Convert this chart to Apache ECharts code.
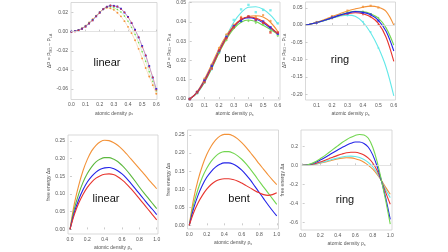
<!DOCTYPE html>
<html>
<head>
<meta charset="utf-8">
<script src="https://cdn.jsdelivr.net/npm/echarts@6/dist/echarts.min.js"></script>
<style>
  html, body { margin: 0; padding: 0; background: #fff; }
  #chart { width: 448px; height: 252px; }
</style>
</head>
<body>
<div id="chart"></div>
<script>
// --- top row: pressure difference vs density ---
const rhoLinearTop = [0, 0.025, 0.05, 0.075, 0.1, 0.125, 0.15, 0.175, 0.2, 0.225, 0.25, 0.275, 0.3,
  0.325, 0.35, 0.375, 0.4, 0.425, 0.45, 0.475, 0.5, 0.525, 0.55, 0.575, 0.6];
const linTopRed = [0, 0.0004, 0.0016, 0.0032, 0.0054, 0.0088, 0.0118, 0.0162, 0.0198, 0.024, 0.0262, 0.0278, 0.0268,
  0.0266, 0.0238, 0.0205, 0.0152, 0.0095, 0.0015, -0.0055, -0.0155, -0.0245, -0.0365, -0.0475, -0.0605];
const linTopBlue = [0, 0.0005, 0.0015, 0.003, 0.0055, 0.0085, 0.012, 0.016, 0.02, 0.0235, 0.026, 0.0272, 0.027,
  0.0262, 0.024, 0.02, 0.0155, 0.009, 0.002, -0.006, -0.015, -0.025, -0.036, -0.048, -0.06];
const linTopGreen = [0, 0.0005, 0.0016, 0.0033, 0.0058, 0.009, 0.0125, 0.0163, 0.0202, 0.0235, 0.0258, 0.0262, 0.025,
  0.0232, 0.0205, 0.0163, 0.011, 0.0045, -0.003, -0.0115, -0.021, -0.031, -0.042, -0.052, -0.062];
const linTopOrange = [0, 0.0006, 0.0018, 0.0036, 0.0062, 0.0095, 0.013, 0.0168, 0.0205, 0.0235, 0.025, 0.0245, 0.0228,
  0.0198, 0.016, 0.011, 0.005, -0.0015, -0.009, -0.018, -0.028, -0.038, -0.047, -0.056, -0.065];

const rhoBentTop = [0, 0.05, 0.1, 0.15, 0.2, 0.25, 0.3, 0.35, 0.4, 0.45, 0.5, 0.55, 0.6];
const bentTopRed = [0, 0.0033, 0.009, 0.0165, 0.0245, 0.0318, 0.0375, 0.0412, 0.0425, 0.042, 0.0402, 0.0372, 0.0338];
const bentTopBlue = [0, 0.0035, 0.0095, 0.017, 0.025, 0.032, 0.0375, 0.041, 0.0422, 0.0415, 0.0395, 0.0368, 0.034];
const bentTopGreen = [0, 0.0032, 0.0088, 0.016, 0.024, 0.031, 0.0365, 0.0398, 0.041, 0.0402, 0.0382, 0.036, 0.0335];
const bentTopOrange = [0, 0.0038, 0.0102, 0.018, 0.0262, 0.033, 0.038, 0.0412, 0.0428, 0.0432, 0.0425, 0.0398, 0.035];
const bentTopCyan = [0, 0.003, 0.0085, 0.0158, 0.0242, 0.0325, 0.0398, 0.0448, 0.0476, 0.0478, 0.0465, 0.0435, 0.039];
const bentPtsRed = [0, 0.0034, 0.0088, 0.0158, 0.0252, 0.0315, 0.0372, 0.0418, 0.0428, 0.0412, 0.0395, 0.0345, 0.0345];
const bentPtsBlue = [0, 0.0036, 0.0096, 0.0172, 0.0248, 0.0322, 0.0378, 0.0405, 0.0425, 0.041, 0.0402, 0.0372, 0.0338];
const bentPtsGreen = [0, 0.0031, 0.0086, 0.0162, 0.0238, 0.0305, 0.0368, 0.0402, 0.0405, 0.0395, 0.0385, 0.0352, 0.0328];
const bentPtsOrange = [0, 0.0039, 0.0105, 0.0178, 0.0265, 0.0335, 0.0385, 0.0425, 0.043, 0.0425, 0.0435, 0.0405, 0.0345];
const bentPtsCyan = [0, 0.003, 0.0086, 0.0155, 0.0245, 0.033, 0.041, 0.0465, 0.0488, 0.045, 0.0462, 0.046, 0.0392];

const rhoRingTop = [0.03, 0.05, 0.1, 0.15, 0.2, 0.25, 0.3, 0.35, 0.4, 0.45, 0.5, 0.55, 0.6];
const ringTopOrange = [0, 0.002, 0.008, 0.016, 0.025, 0.033, 0.041, 0.047, 0.052, 0.055, 0.052, 0.04, 0.0];
const ringTopGreen = [0, 0.002, 0.0075, 0.014, 0.021, 0.029, 0.036, 0.04, 0.039, 0.033, 0.02, -0.008, -0.058];
const ringTopBlue = [0, 0.002, 0.0075, 0.014, 0.021, 0.029, 0.035, 0.039, 0.037, 0.03, 0.014, -0.018, -0.075];
const ringTopRed = [0, 0.002, 0.0075, 0.014, 0.021, 0.028, 0.033, 0.036, 0.033, 0.024, 0.005, -0.035, -0.105];
const ringTopCyan = [0, 0.002, 0.007, 0.013, 0.02, 0.026, 0.029, 0.026, 0.009, -0.022, -0.065, -0.122, -0.205];
const rhoRingPts = [0.1, 0.2, 0.3, 0.4, 0.45, 0.5];
const ringPtsOrange = [0.009, 0.026, 0.042, 0.053, 0.056, 0.051];
const ringPtsGreen = [0.008, 0.02, 0.037, 0.04, 0.032, 0.021];
const ringPtsBlue = [0.007, 0.022, 0.034, 0.036, 0.031, 0.013];
const ringPtsRed = [0.008, 0.02, 0.034, 0.032, 0.025, 0.004];
const ringPtsCyan = [0.007, 0.021, 0.028, 0.01, -0.02, -0.066];

// --- bottom row: free energy vs density ---
const rhoBottom = [0, 0.05, 0.1, 0.15, 0.2, 0.25, 0.3, 0.35, 0.4, 0.45, 0.5,
  0.55, 0.6, 0.65, 0.7, 0.75, 0.8, 0.85, 0.9, 0.95, 1.0];
const linBotOrange = [0, 0.072, 0.124, 0.166, 0.198, 0.222, 0.238, 0.248, 0.252, 0.251, 0.246,
  0.238, 0.227, 0.214, 0.2, 0.186, 0.172, 0.158, 0.143, 0.129, 0.115];
const linBotGreen = [0, 0.058, 0.1, 0.133, 0.158, 0.177, 0.191, 0.199, 0.203, 0.203, 0.199,
  0.192, 0.181, 0.168, 0.153, 0.137, 0.12, 0.104, 0.089, 0.074, 0.059];
const linBotBlue = [0, 0.048, 0.084, 0.112, 0.134, 0.15, 0.162, 0.17, 0.174, 0.175, 0.172,
  0.166, 0.157, 0.145, 0.131, 0.116, 0.101, 0.086, 0.071, 0.057, 0.042];
const linBotRed = [0, 0.042, 0.074, 0.099, 0.119, 0.134, 0.145, 0.152, 0.156, 0.157, 0.155,
  0.149, 0.14, 0.129, 0.116, 0.102, 0.087, 0.072, 0.057, 0.042, 0.027];

const bentBotOrange = [0, 0.073, 0.125, 0.165, 0.196, 0.219, 0.236, 0.247, 0.252, 0.252, 0.248,
  0.24, 0.229, 0.216, 0.201, 0.186, 0.17, 0.155, 0.14, 0.126, 0.113];
const bentBotGreen = [0, 0.058, 0.1, 0.133, 0.158, 0.177, 0.191, 0.2, 0.204, 0.204, 0.2,
  0.193, 0.183, 0.17, 0.155, 0.139, 0.122, 0.106, 0.09, 0.074, 0.058];
const bentBotBlue = [0, 0.047, 0.083, 0.111, 0.133, 0.149, 0.161, 0.169, 0.173, 0.173, 0.17,
  0.163, 0.153, 0.14, 0.125, 0.108, 0.091, 0.074, 0.057, 0.041, 0.026];
const bentBotRed = [0, 0.035, 0.062, 0.083, 0.1, 0.113, 0.122, 0.127, 0.129, 0.129, 0.127,
  0.123, 0.117, 0.11, 0.103, 0.096, 0.09, 0.085, 0.083, 0.085, 0.09];

const ringBotGreen = [0, 0.004, 0.018, 0.04, 0.07, 0.1, 0.135, 0.17, 0.205, 0.24, 0.27,
  0.295, 0.315, 0.325, 0.32, 0.285, 0.19, 0.04, -0.16, -0.38, -0.62];
const ringBotBlue = [0, 0.003, 0.014, 0.032, 0.055, 0.08, 0.107, 0.135, 0.162, 0.188, 0.212,
  0.232, 0.245, 0.245, 0.23, 0.19, 0.11, -0.01, -0.165, -0.35, -0.57];
const ringBotRed = [0, 0.002, 0.009, 0.02, 0.035, 0.052, 0.07, 0.088, 0.105, 0.12, 0.132,
  0.138, 0.137, 0.128, 0.108, 0.075, 0.025, -0.055, -0.165, -0.29, -0.41];
const ringBotCyan = [0, 0.002, 0.007, 0.015, 0.026, 0.039, 0.052, 0.065, 0.077, 0.088, 0.095,
  0.097, 0.093, 0.082, 0.062, 0.03, -0.015, -0.08, -0.165, -0.26, -0.34];
const ringBotOrange = [0, 0.002, 0.006, 0.013, 0.022, 0.033, 0.045, 0.057, 0.068, 0.076, 0.08,
  0.078, 0.07, 0.055, 0.032, 0.0, -0.04, -0.095, -0.16, -0.235, -0.305];

// tick labels
const ticksX6 = [0, 0.1, 0.2, 0.3, 0.4, 0.5, 0.6];
const ticksXRing = [0.1, 0.2, 0.3, 0.4, 0.5, 0.6];
const ticksX10 = [0, 0.2, 0.4, 0.6, 0.8, 1.0];
const ticksYLinTop = [0.02, 0, -0.02, -0.04, -0.06];
const ticksYBentTop = [0, 0.01, 0.02, 0.03, 0.04, 0.05];
const ticksYRingTop = [0.05, 0, -0.05, -0.1, -0.15, -0.2];
const ticksYEnergy = [0, 0.05, 0.1, 0.15, 0.2, 0.25];
const ticksYRingBot = [0.2, 0, -0.2, -0.4, -0.6];
const panelLabels = ['linear', 'bent', 'ring', 'linear', 'bent', 'ring'];

const RED = '#e8352e', BLUE = '#2323e8', GREEN = '#72d650', ORANGE = '#f39238', CYAN = '#62e8e8';
const FONT = "'Liberation Sans Narrow', 'Liberation Sans', sans-serif";

const chart = echarts.init(document.getElementById('chart'));

function pairs(xs, ys) {
    return ys.map((y, i) => [xs[i], y]);
}

const sub = { fontSize: 3.5, padding: [2, 0, 0, 0], color: '#555', fontFamily: FONT };
const nameStyle = { fontSize: 5, color: '#555', fontFamily: FONT, rich: { s: sub, t: { fontSize: 5, color: '#555', fontFamily: FONT } } };

function xAxis(gi, min, max, ticks) {
    return {
        type: 'value', gridIndex: gi, min: min, max: max,
        axisLine: { show: false }, splitLine: { show: false },
        axisTick: { inside: true, length: 2, customValues: ticks, lineStyle: { color: '#aaa', width: 0.6 } },
        axisLabel: { customValues: ticks, fontSize: 5, color: '#555', fontFamily: FONT, margin: 3,
            formatter: v => v.toFixed(1) },
        name: '{t|atomic density ρ}{s|s}', nameLocation: 'middle', nameGap: 11, nameTextStyle: nameStyle
    };
}

function yAxis(gi, min, max, ticks, digits, name, gap) {
    return {
        type: 'value', gridIndex: gi, min: min, max: max,
        axisLine: { show: false }, splitLine: { show: false },
        axisTick: { inside: true, length: 2, customValues: ticks, lineStyle: { color: '#aaa', width: 0.6 } },
        axisLabel: { customValues: ticks, fontSize: 5, color: '#555', fontFamily: FONT, margin: 3,
            formatter: v => v.toFixed(digits) },
        name: name, nameLocation: 'middle', nameRotate: 90, nameGap: gap, nameTextStyle: nameStyle
    };
}

const dpName = '{t|ΔP = P}{s|MD}{t| − P}{s|LA}';
const faName = '{t|free energy Δa}';

function line(gi, xs, ys, color, extra) {
    return Object.assign({
        type: 'line', xAxisIndex: gi, yAxisIndex: gi, data: pairs(xs, ys),
        smooth: 0.35, symbol: 'none', lineStyle: { color: color, width: 1.1 }, silent: true, z: 3
    }, extra || {});
}

function dots(gi, xs, ys, color, shape, size) {
    return {
        type: 'scatter', xAxisIndex: gi, yAxisIndex: gi, data: pairs(xs, ys),
        symbol: shape, symbolSize: size, itemStyle: { color: color }, silent: true, z: 4
    };
}

const zeroLine = {
    silent: true, symbol: 'none', label: { show: false },
    lineStyle: { color: '#dcdcdc', type: 'solid', width: 0.8 }, data: [{ yAxis: 0 }]
};

function dottedSeries(gi, xs, ys, color, shape) {
    return {
        type: 'line', xAxisIndex: gi, yAxisIndex: gi, data: pairs(xs, ys),
        symbol: shape, symbolSize: 1.9, itemStyle: { color: color },
        lineStyle: { color: color, width: 0.6, type: 'dotted' }, silent: true, z: 3
    };
}

const gridBox = { show: true, borderColor: '#cfcfcf', borderWidth: 0.8, containLabel: false };

const labelPos = [[107, 63], [235, 59], [340, 60], [106, 199], [239, 199], [345, 200]];

const option = {
    animation: false,
    grid: [
        Object.assign({ left: 71, top: 2.5, width: 86, height: 97 }, gridBox),
        Object.assign({ left: 189, top: 2, width: 91, height: 98 }, gridBox),
        Object.assign({ left: 305.5, top: 2, width: 90, height: 98 }, gridBox),
        Object.assign({ left: 68, top: 135, width: 90, height: 100 }, gridBox),
        Object.assign({ left: 187.5, top: 130, width: 91, height: 99 }, gridBox),
        Object.assign({ left: 301, top: 130, width: 91, height: 100 }, gridBox)
    ],
    xAxis: [
        xAxis(0, -0.003, 0.605, ticksX6),
        xAxis(1, -0.005, 0.615, ticksX6),
        xAxis(2, 0.028, 0.611, ticksXRing),
        xAxis(3, -0.023, 1.015, ticksX10),
        xAxis(4, -0.02, 1.02, ticksX10),
        xAxis(5, -0.019, 1.02, ticksX10)
    ],
    yAxis: [
        yAxis(0, -0.071, 0.0305, ticksYLinTop, 2, dpName, 13),
        yAxis(1, -0.0005, 0.0503, ticksYBentTop, 2, dpName, 12),
        yAxis(2, -0.217, 0.067, ticksYRingTop, 2, dpName, 14),
        yAxis(3, -0.013, 0.267, ticksYEnergy, 2, faName, 12),
        yAxis(4, -0.0102, 0.264, ticksYEnergy, 2, faName, 12),
        yAxis(5, -0.681, 0.372, ticksYRingBot, 1, faName, 11)
    ],
    graphic: panelLabels.map((t, i) => ({
        type: 'text', x: labelPos[i][0], y: labelPos[i][1], z: 10,
        style: { text: t, fontSize: 11, fontFamily: FONT, fill: '#111', align: 'center', verticalAlign: 'middle' }
    })),
    series: [
        // linear, top
        Object.assign(dottedSeries(0, rhoLinearTop, linTopOrange, ORANGE, 'circle'), { markLine: zeroLine }),
        dottedSeries(0, rhoLinearTop, linTopGreen, GREEN, 'diamond'),
        dottedSeries(0, rhoLinearTop, linTopBlue, BLUE, 'rect'),
        dottedSeries(0, rhoLinearTop, linTopRed, RED, 'triangle'),
        // bent, top
        line(1, rhoBentTop, bentTopCyan, CYAN),
        line(1, rhoBentTop, bentTopOrange, ORANGE),
        line(1, rhoBentTop, bentTopGreen, GREEN),
        line(1, rhoBentTop, bentTopBlue, BLUE),
        line(1, rhoBentTop, bentTopRed, RED),
        dots(1, rhoBentTop, bentPtsCyan, CYAN, 'rect', 2.4),
        dots(1, rhoBentTop, bentPtsOrange, ORANGE, 'circle', 2.4),
        dots(1, rhoBentTop, bentPtsGreen, GREEN, 'diamond', 2.8),
        dots(1, rhoBentTop, bentPtsBlue, BLUE, 'rect', 2.4),
        dots(1, rhoBentTop, bentPtsRed, RED, 'rect', 2.4),
        // ring, top
        line(2, rhoRingTop, ringTopCyan, CYAN, { markLine: zeroLine }),
        line(2, rhoRingTop, ringTopOrange, ORANGE),
        line(2, rhoRingTop, ringTopRed, RED),
        line(2, rhoRingTop, ringTopGreen, GREEN),
        line(2, rhoRingTop, ringTopBlue, BLUE),
        dots(2, rhoRingPts, ringPtsCyan, CYAN, 'circle', 2),
        dots(2, rhoRingPts, ringPtsOrange, ORANGE, 'rect', 2.2),
        dots(2, rhoRingPts, ringPtsRed, RED, 'triangle', 2.2),
        dots(2, rhoRingPts, ringPtsGreen, GREEN, 'diamond', 2.2),
        dots(2, rhoRingPts, ringPtsBlue, BLUE, 'rect', 2.2),
        // linear, bottom
        line(3, rhoBottom, linBotOrange, ORANGE),
        line(3, rhoBottom, linBotGreen, '#5cb83e'),
        line(3, rhoBottom, linBotBlue, BLUE),
        line(3, rhoBottom, linBotRed, RED),
        // bent, bottom
        line(4, rhoBottom, bentBotOrange, ORANGE),
        line(4, rhoBottom, bentBotGreen, GREEN),
        line(4, rhoBottom, bentBotBlue, BLUE),
        line(4, rhoBottom, bentBotRed, RED),
        // ring, bottom
        line(5, rhoBottom, ringBotOrange, ORANGE, { markLine: zeroLine }),
        line(5, rhoBottom, ringBotCyan, CYAN),
        line(5, rhoBottom, ringBotRed, RED),
        line(5, rhoBottom, ringBotBlue, BLUE),
        line(5, rhoBottom, ringBotGreen, GREEN)
    ]
};

chart.setOption(option);
</script>
</body>
</html>
